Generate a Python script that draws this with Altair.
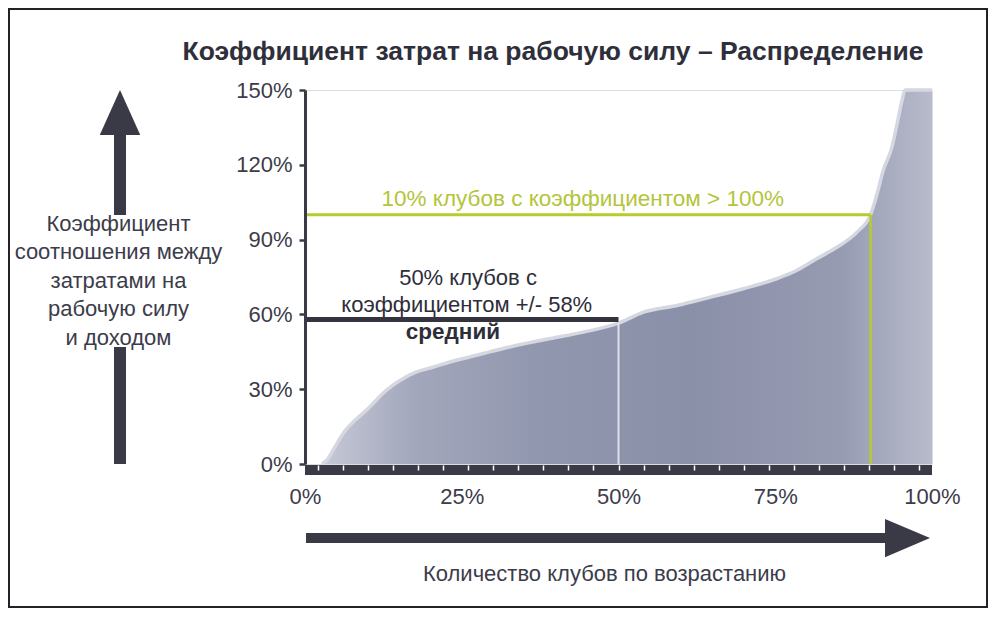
import altair as alt
import pandas as pd

# ---- data ----
club_share = [2.7, 3.5, 4.5, 6.1, 8.0, 9.8, 13.0, 15.2, 17.8, 20.5, 23.1, 28.4, 33.8,
              39.1, 44.4, 50.0, 54.0, 59.3, 64.6, 69.9, 75.2, 78.4, 81.6, 84.8, 88.0,
              90.2, 91.2, 92.2, 93.6, 94.4, 95.2, 95.7, 100.0]
cost_ratio = [0.0, 1.6, 5.6, 12.3, 17.6, 21.6, 29.6, 33.6, 36.9, 38.9, 40.9, 44.3, 47.6,
              50.3, 52.9, 56.5, 60.9, 63.6, 66.9, 70.3, 74.3, 77.6, 82.3, 86.9, 92.9,
              100.0, 108.0, 117.6, 127.0, 136.0, 145.6, 150.0, 150.0]
y_ticks = [0, 30, 60, 90, 120, 150]
x_labels = [0, 25, 50, 75, 100]
x_minor = [2, 6, 10, 14, 18, 22, 26, 30, 34, 38, 42, 46, 50, 54, 58, 62, 66, 70, 74,
           78, 82, 86, 90, 94, 98]
median_share = 50
median_ratio = 58
median_curve = 56.5
top_share = 90.2
top_ratio = 100

title_text = "Коэффициент затрат на рабочую силу – Распределение"
y_title = ["Коэффициент", "соотношения между", "затратами на", "рабочую силу", "и доходом"]
x_title = "Количество клубов по возрастанию"
green_text = "10% клубов с коэффициентом > 100%"
black_lines = ["50% клубов с", "коэффициентом +/- 58%"]
bold_line = "средний"

FONT = "Liberation Sans, Arial, Helvetica, sans-serif"
DARK = "#3a3a46"
TXT = "#3c3c4a"
GREEN = "#b8cb2e"

df = pd.DataFrame({"x": club_share, "y": cost_ratio})
xs = alt.Scale(domain=[0, 100], nice=False, zero=False)
ys = alt.Scale(domain=[0, 150], nice=False)

label_axis = alt.Axis(orient="bottom", values=x_labels, labelExpr="datum.value + '%'",
                      ticks=False, tickSize=0, domain=False, grid=False, labelPadding=22,
                      labelFontSize=22, labelColor=TXT, labelFont=FONT, labelFlush=False,
                      title=x_title, titleX=299, titleY=109, titleBaseline="middle",
                      titleAlign="center", titleFontSize=22, titleFontWeight="normal",
                      titleColor=TXT, titleFont=FONT)
tick_axis = alt.Axis(orient="bottom", values=x_minor, labels=False, domain=False, grid=False,
                     ticks=True, tickColor="white", tickSize=5, tickWidth=1.5, offset=1,
                     title=None, zindex=2)
y_axis = alt.Axis(values=y_ticks, labelExpr="datum.value + '%'", grid=False,
                  domainColor=DARK, domainWidth=3, tickColor=DARK, tickWidth=2.5, tickSize=6,
                  labelFontSize=22, labelColor=TXT, labelFont=FONT, labelPadding=7,
                  title=y_title, titleAngle=0, titleAlign="center", titleBaseline="top",
                  titleX=-187, titleY=123, titleFontSize=22, titleFontWeight="normal",
                  titleLineHeight=28.5, titleColor=TXT, titleFont=FONT, zindex=1)

fill = alt.Gradient(gradient="linear", x1=0, x2=1, y1=0, y2=0, stops=[
    alt.GradientStop(color="#c6c9d6", offset=0.0),
    alt.GradientStop(color="#a3a7bc", offset=0.15),
    alt.GradientStop(color="#9197ae", offset=0.35),
    alt.GradientStop(color="#8b90a9", offset=0.6),
    alt.GradientStop(color="#969bb2", offset=0.85),
    alt.GradientStop(color="#b8bbcb", offset=1.0),
])


def X(field):
    return alt.X(field, scale=xs, axis=None)


def Y(field):
    return alt.Y(field, scale=ys, axis=y_axis)


area = alt.Chart(df).mark_area(fill=fill, interpolate="monotone").encode(
    x=alt.X("x:Q", scale=xs, axis=label_axis),
    y=Y("y:Q"),
)
edge = alt.Chart(df).mark_line(stroke="#d6d8e1", strokeWidth=3.5, interpolate="monotone").encode(
    x=X("x:Q"), y=Y("y:Q"),
)

band = alt.Chart(pd.DataFrame({"a": [0], "b": [100]})).mark_rect(color=DARK).encode(
    x=alt.X("a:Q", scale=xs, axis=tick_axis), x2="b:Q",
    y=alt.value(375), y2=alt.value(385),
)

one = pd.DataFrame({"k": [0]})

white_rule = alt.Chart(pd.DataFrame({"x": [median_share], "y": [0], "y2": [median_curve]})).mark_rule(
    color="#dfe1ea", strokeWidth=2).encode(x=X("x:Q"), y=Y("y:Q"), y2="y2:Q")
black_rule = alt.Chart(pd.DataFrame({"x": [0], "x2": [median_share], "y": [median_ratio]})).mark_rule(
    color="#34343f", strokeWidth=5).encode(x=X("x:Q"), x2="x2:Q", y=Y("y:Q"))
green_h = alt.Chart(pd.DataFrame({"x": [0], "x2": [top_share], "y": [top_ratio]})).mark_rule(
    color=GREEN, strokeWidth=3).encode(x=X("x:Q"), x2="x2:Q", y=Y("y:Q"))
green_v = alt.Chart(pd.DataFrame({"x": [top_share], "y": [0], "y2": [top_ratio]})).mark_rule(
    color=GREEN, strokeWidth=2.5).encode(x=X("x:Q"), y=Y("y:Q"), y2="y2:Q")

green_lbl = alt.Chart(pd.DataFrame({"x": [44.3], "y": [106.4], "t": [green_text]})).mark_text(
    color="#b3c53a", fontSize=22.5, font=FONT, baseline="middle", align="center").encode(
    x=X("x:Q"), y=Y("y:Q"), text="t:N")
black_lbl = alt.Chart(pd.DataFrame({"x": [26.0, 25.8], "y": [74.4, 63.6], "t": black_lines})).mark_text(
    color="#2e2e3a", fontSize=22, font=FONT, baseline="middle", align="center").encode(
    x=X("x:Q"), y=Y("y:Q"), text="t:N")
bold_lbl = alt.Chart(pd.DataFrame({"x": [23.6], "y": [52.8], "t": [bold_line]})).mark_text(
    color="#2e2e3a", fontSize=22.5, font=FONT, fontWeight="bold", baseline="middle", align="center").encode(
    x=X("x:Q"), y=Y("y:Q"), text="t:N")

# title, decorative arrows and frame
title = alt.Chart(one).mark_text(text=title_text, fontSize=26.5, fontWeight="bold", font=FONT,
                                 color="#2f2f3c", align="center", baseline="alphabetic").encode(
    x=alt.value(248), y=alt.value(-30))
up_lo = alt.Chart(one).mark_rule(color=DARK, strokeWidth=12, strokeCap="butt").encode(
    x=alt.value(-185), y=alt.value(257), y2=alt.value(374))
up_hi = alt.Chart(one).mark_rule(color=DARK, strokeWidth=12, strokeCap="butt").encode(
    x=alt.value(-185), y=alt.value(44), y2=alt.value(125))
up_head = alt.Chart(one).mark_point(shape="M0,-1L0.9,1L-0.9,1Z", size=2025, filled=True,
                                    color=DARK, opacity=1).encode(
    x=alt.value(-185), y=alt.value(22.5))
right_shaft = alt.Chart(one).mark_rule(color=DARK, strokeWidth=10, strokeCap="butt").encode(
    x=alt.value(1), x2=alt.value(582), y=alt.value(448))
right_head = alt.Chart(one).mark_point(shape="M1,0L-1,-0.85L-1,0.85Z", size=2025, filled=True,
                                       color=DARK, opacity=1).encode(
    x=alt.value(602.5), y=alt.value(448))
frame = alt.Chart(one).mark_rect(fillOpacity=0, stroke="#222228", strokeWidth=2).encode(
    x=alt.value(-296), x2=alt.value(682), y=alt.value(-81), y2=alt.value(517))

chart = alt.layer(
    area, edge, white_rule, black_rule, green_h, green_v, band,
    green_lbl, black_lbl, bold_lbl,
    title, up_lo, up_hi, up_head, right_shaft, right_head, frame,
).resolve_axis(x="independent", y="shared").properties(
    width=627, height=374,
    autosize=alt.AutoSizeParams(type="none"),
    padding={"left": 297, "top": 82, "right": 57, "bottom": 144},
).configure_view(stroke="#a9abb9", strokeWidth=1).configure(background="white")

chart.save("out.html", embed_options={"renderer": "svg", "actions": False})
